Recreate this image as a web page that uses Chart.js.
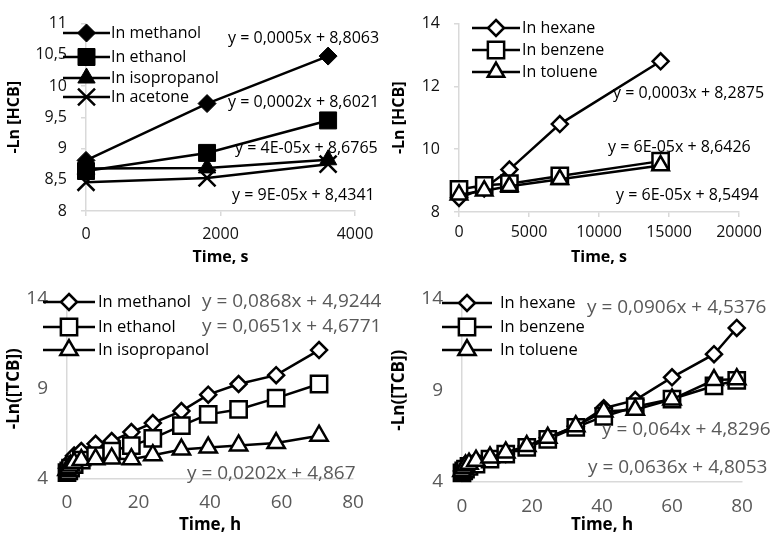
<!DOCTYPE html>
<html>
<head>
<meta charset="utf-8">
<script src="https://cdn.jsdelivr.net/npm/chart.js@4.4.0/dist/chart.umd.min.js"></script>
<style>
  body { margin: 0; background: #fff; }
  #wrap { position: relative; width: 770px; height: 535px; }
  canvas { position: absolute; }
</style>
</head>
<body>
<div id="wrap">
  <canvas id="c1" width="385" height="268" style="left:0;top:0"></canvas>
  <canvas id="c2" width="385" height="268" style="left:385px;top:0"></canvas>
  <canvas id="c3" width="385" height="267" style="left:0;top:268px"></canvas>
  <canvas id="c4" width="385" height="267" style="left:385px;top:268px"></canvas>
</div>
<script>
// HCB in alcohols / acetone (time in s)
const timeHcbA = [0, 1800, 3600];
const hcbMethanol = [8.81, 9.72, 10.48];
const hcbEthanol = [8.64, 8.93, 9.45];
const hcbIsopropanol = [8.68, 8.69, 8.82];
const hcbAcetone = [8.46, 8.53, 8.75];

// HCB in hexane / benzene / toluene (time in s)
const timeHcbB = [0, 1800, 3600, 7200, 14400];
const hcbHexane = [8.45, 8.75, 9.35, 10.8, 12.8];
const hcbBenzene = [8.72, 8.85, 8.9, 9.15, 9.62];
const hcbToluene = [8.55, 8.68, 8.82, 9.04, 9.48];

// TCB in alcohols (time in h)
const timeTcbA = [0, 0.5, 1, 2, 4, 8, 12.5, 18, 24, 32, 39.5, 48, 58.5, 70.5];
const tcbMethanol = [4.6, 4.8, 5.0, 5.3, 5.55, 5.95, 6.1, 6.6, 7.1, 7.76, 8.67, 9.26, 9.75, 11.14];
const tcbEthanol = [4.35, 4.45, 4.6, 4.8, 5.05, 5.3, 5.55, 5.85, 6.25, 6.95, 7.58, 7.85, 8.48, 9.26];
const tcbIsopropanol = [4.5, 4.6, 4.75, 4.9, 5.05, 5.1, 5.14, 5.1, 5.32, 5.63, 5.74, 5.86, 5.99, 6.4];

// TCB in hexane / benzene / toluene (time in h)
const timeTcbB = [0, 0.5, 1, 2, 4, 8, 12.5, 18.5, 24.5, 32.5, 40.5, 49.5, 60, 72, 78.5];
const tcbHexane = [4.6, 4.7, 4.85, 5.0, 5.16, 5.34, 5.52, 5.96, 6.41, 7.04, 8.02, 8.46, 9.7, 10.96, 12.39];
const tcbBenzene = [4.5, 4.6, 4.7, 4.85, 4.98, 5.25, 5.52, 5.88, 6.32, 6.98, 7.57, 8.1, 8.52, 9.23, 9.54];
const tcbToluene = [4.6, 4.75, 4.9, 5.0, 5.16, 5.34, 5.61, 5.96, 6.41, 7.04, 7.84, 7.93, 8.5, 9.55, 9.6];

const FONT = '"Open Sans", sans-serif';

function fmt(v) {
  return String(v).replace('.', ',');
}

// marker drawing for the legend (same shapes as chart.js point styles)
function drawMark(ctx, style, x, y, r) {
  ctx.beginPath();
  if (style === 'rectRot') {
    ctx.moveTo(x, y - r); ctx.lineTo(x + r, y); ctx.lineTo(x, y + r); ctx.lineTo(x - r, y);
    ctx.closePath();
  } else if (style === 'rect') {
    const s = r * Math.SQRT1_2;
    ctx.rect(x - s, y - s, 2 * s, 2 * s);
  } else if (style === 'triangle') {
    let a = 0;
    ctx.moveTo(x + Math.sin(a) * r, y - Math.cos(a) * r);
    a += 2 * Math.PI / 3;
    ctx.lineTo(x + Math.sin(a) * r, y - Math.cos(a) * r);
    a += 2 * Math.PI / 3;
    ctx.lineTo(x + Math.sin(a) * r, y - Math.cos(a) * r);
    ctx.closePath();
  } else if (style === 'crossRot') {
    const o = Math.cos(Math.PI / 4) * r;
    ctx.moveTo(x - o, y - o); ctx.lineTo(x + o, y + o);
    ctx.moveTo(x - o, y + o); ctx.lineTo(x + o, y - o);
  }
  if (style !== 'crossRot') ctx.fill();
  ctx.stroke();
}

function makeChart(id, p) {
  const datasets = p.series.map((s, i) => ({
    label: s.label,
    data: s.x.map((x, k) => ({ x: x, y: s.y[k] })),
    borderColor: '#000',
    borderWidth: 2.5,
    pointStyle: s.style,
    pointRadius: s.r,
    pointHoverRadius: s.r,
    pointBackgroundColor: s.fill,
    pointBorderColor: '#000',
    pointBorderWidth: s.bw,
    tension: 0,
    clip: false,
    order: p.series.length - i
  }));

  const overlay = {
    id: 'overlay',
    afterDraw(chart) {
      const ctx = chart.ctx;
      ctx.save();
      // legend: line with marker in the middle
      const lg = p.legend;
      p.series.forEach((s, i) => {
        const y = lg.rows[i];
        ctx.strokeStyle = '#000';
        ctx.lineWidth = 2.5;
        ctx.beginPath();
        ctx.moveTo(lg.x1, y);
        ctx.lineTo(lg.x2, y);
        ctx.stroke();
        ctx.fillStyle = s.fill;
        ctx.lineWidth = s.style === 'crossRot' ? 2.5 : s.bw;
        drawMark(ctx, s.style, (lg.x1 + lg.x2) / 2, y, s.r);
        ctx.fillStyle = '#000';
        ctx.font = lg.font + 'px ' + FONT;
        ctx.textAlign = 'left';
        ctx.textBaseline = 'middle';
        ctx.fillText(s.label, lg.tx, y);
      });
      // trendline equations
      ctx.fillStyle = p.eqColor;
      ctx.font = p.eqFont + 'px ' + FONT;
      p.equations.forEach(e => ctx.fillText(e[0], e[1], e[2]));
      ctx.restore();
    }
  };

  new Chart(document.getElementById(id), {
    type: 'line',
    data: { datasets: datasets },
    options: {
      responsive: false,
      devicePixelRatio: 1,
      animation: false,
      events: [],
      layout: { autoPadding: false, padding: p.pad },
      plugins: { legend: { display: false }, tooltip: { enabled: false } },
      scales: {
        x: {
          type: 'linear',
          min: p.x.min, max: p.x.max,
          afterFit: s => { s.height = p.x.h; },
          ticks: {
            stepSize: p.x.step, autoSkip: false, maxRotation: 0,
            padding: p.x.pad, color: p.tickColor,
            font: { family: FONT, size: p.tickFont },
            callback: v => fmt(v)
          },
          grid: { drawOnChartArea: false, drawTicks: p.ticks, tickLength: 5, color: '#d9d9d9', lineWidth: 1.5 },
          border: { color: '#d9d9d9', width: 1.5 },
          title: {
            display: true, text: p.x.title, color: '#000',
            font: { family: FONT, size: p.titleFont, weight: 'bold' },
            padding: { top: 0, bottom: p.x.tpad }
          }
        },
        y: {
          min: p.y.min, max: p.y.max,
          afterFit: s => { s.width = p.y.w; },
          ticks: {
            stepSize: p.y.step, autoSkip: false,
            padding: p.y.pad, color: p.tickColor,
            font: { family: FONT, size: p.tickFont },
            callback: v => fmt(v)
          },
          grid: { drawOnChartArea: false, drawTicks: p.ticks, tickLength: 5, color: '#d9d9d9', lineWidth: 1.5 },
          border: { color: '#d9d9d9', width: 1.5 },
          title: {
            display: true, text: p.y.title, color: '#000',
            font: { family: FONT, size: p.titleFont, weight: 'bold' },
            padding: { top: p.y.tpad, bottom: 0 }
          }
        }
      }
    },
    plugins: [overlay]
  });
}

// top left: HCB, filled markers
makeChart('c1', {
  pad: { left: 0, right: 30, top: 20, bottom: 0 },
  x: { min: 0, max: 4000, step: 2000, h: 57, pad: 9, tpad: 1, title: 'Time, s' },
  y: { min: 8, max: 11, step: 0.5, w: 86, pad: 14, tpad: 5, title: '-Ln [HCB]' },
  ticks: true, tickColor: '#111', tickFont: 16, titleFont: 16,
  series: [
    { label: 'In methanol', x: timeHcbA, y: hcbMethanol, style: 'rectRot', r: 9, fill: '#000', bw: 1 },
    { label: 'In ethanol', x: timeHcbA, y: hcbEthanol, style: 'rect', r: 12, fill: '#000', bw: 1 },
    { label: 'In isopropanol', x: timeHcbA, y: hcbIsopropanol, style: 'triangle', r: 10, fill: '#000', bw: 1 },
    { label: 'In acetone', x: timeHcbA, y: hcbAcetone, style: 'crossRot', r: 12, fill: '#000', bw: 2.5 }
  ],
  legend: { x1: 63, x2: 110, tx: 111, rows: [33, 57, 78, 97], font: 16 },
  eqColor: '#000', eqFont: 16,
  equations: [
    ['y = 0,0005x + 8,8063', 228, 38],
    ['y = 0,0002x + 8,6021', 228, 102],
    ['y = 4E-05x + 8,6765', 235, 148],
    ['y = 9E-05x + 8,4341', 232, 195]
  ]
});

// top right: HCB, open markers
makeChart('c2', {
  pad: { left: 0, right: 31, top: 17, bottom: 0 },
  x: { min: 0, max: 20000, step: 5000, h: 56, pad: 6, tpad: 1, title: 'Time, s' },
  y: { min: 8, max: 14, step: 2, w: 74, pad: 14, tpad: 5, title: '-Ln [HCB]' },
  ticks: true, tickColor: '#111', tickFont: 16, titleFont: 16,
  series: [
    { label: 'In hexane', x: timeHcbB, y: hcbHexane, style: 'rectRot', r: 8, fill: '#fff', bw: 2.5 },
    { label: 'In benzene', x: timeHcbB, y: hcbBenzene, style: 'rect', r: 11.5, fill: '#fff', bw: 2.5 },
    { label: 'In toluene', x: timeHcbB, y: hcbToluene, style: 'triangle', r: 9.5, fill: '#fff', bw: 2.5 }
  ],
  legend: { x1: 87, x2: 135, tx: 137, rows: [28, 50, 72], font: 16 },
  eqColor: '#000', eqFont: 16,
  equations: [
    ['y = 0,0003x + 8,2875', 228, 93],
    ['y = 6E-05x + 8,6426', 223, 147],
    ['y = 6E-05x + 8,5494', 231, 195]
  ]
});

// bottom left: TCB in alcohols
makeChart('c3', {
  pad: { left: 0, right: 32, top: 27, bottom: 0 },
  x: { min: 0, max: 80, step: 20, h: 56, pad: 12, tpad: 0, title: 'Time, h' },
  y: { min: 4, max: 14, step: 5, w: 67, pad: 19, tpad: 4, title: '-Ln([TCB])' },
  ticks: false, tickColor: '#595959', tickFont: 19, titleFont: 17,
  series: [
    { label: 'In methanol', x: timeTcbA, y: tcbMethanol, style: 'rectRot', r: 8, fill: '#fff', bw: 2.5 },
    { label: 'In ethanol', x: timeTcbA, y: tcbEthanol, style: 'rect', r: 11.5, fill: '#fff', bw: 2.5 },
    { label: 'In isopropanol', x: timeTcbA, y: tcbIsopropanol, style: 'triangle', r: 10, fill: '#fff', bw: 2.5 }
  ],
  legend: { x1: 43, x2: 95, tx: 98, rows: [34, 59, 82], font: 16.5 },
  eqColor: '#595959', eqFont: 19,
  equations: [
    ['y = 0,0868x + 4,9244', 202, 34],
    ['y = 0,0651x + 4,6771', 202, 59],
    ['y = 0,0202x + 4,867', 187, 206]
  ]
});

// bottom right: TCB in hexane / benzene / toluene
makeChart('c4', {
  pad: { left: 0, right: 28, top: 27, bottom: 0 },
  x: { min: 0, max: 80, step: 20, h: 53, pad: 13, tpad: 0, title: 'Time, h' },
  y: { min: 4, max: 14, step: 5, w: 77, pad: 19, tpad: 4, title: '-Ln([TCB])' },
  ticks: false, tickColor: '#595959', tickFont: 19, titleFont: 17,
  series: [
    { label: 'In hexane', x: timeTcbB, y: tcbHexane, style: 'rectRot', r: 8, fill: '#fff', bw: 2.5 },
    { label: 'In benzene', x: timeTcbB, y: tcbBenzene, style: 'rect', r: 11.5, fill: '#fff', bw: 2.5 },
    { label: 'In toluene', x: timeTcbB, y: tcbToluene, style: 'triangle', r: 10, fill: '#fff', bw: 2.5 }
  ],
  legend: { x1: 57, x2: 107, tx: 115, rows: [35, 59, 82], font: 16.5 },
  eqColor: '#595959', eqFont: 19,
  equations: [
    ['y = 0,0906x + 4,5376', 202, 40],
    ['y = 0,064x + 4,8296', 217, 162],
    ['y = 0,0636x + 4,8053', 203, 200]
  ]
});
</script>
</body>
</html>
